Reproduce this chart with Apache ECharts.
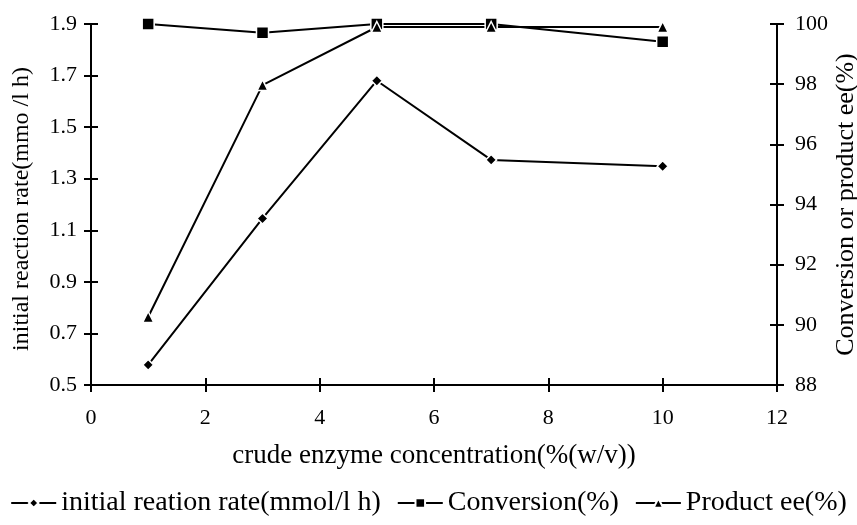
<!DOCTYPE html>
<html><head><meta charset="utf-8">
<script src="https://cdn.jsdelivr.net/npm/echarts@6/dist/echarts.min.js"></script>
<style>html,body{margin:0;padding:0;background:#fff}#c{width:857px;height:525px}</style>
</head><body><div id="c"></div>
<script>
var concentrations = [1, 3, 5, 7, 10];
var rateValues = [0.578, 1.146, 1.680, 1.373, 1.348];
var conversionValues = [100.0, 99.71, 100.0, 100.0, 99.41];
var eeValues = [90.26, 97.97, 99.9, 99.9, 99.9];
var seriesNames = ['initial reation rate(mmol/l h)', 'Conversion(%)', 'Product ee(%)'];

function pairs(vals){ return concentrations.map(function(x,i){ return [x, vals[i]]; }); }

var FONT = 'Liberation Serif';
var tick = {color:'#000', fontFamily:FONT, fontSize:22};
var lineS = {show:true, onZero:false, lineStyle:{color:'#000', width:2}};
var noLine = {show:false, onZero:false};
var tkOut = {show:true, inside:false, length:7, lineStyle:{color:'#000', width:2}};
var G = {left:91, right:80, top:24, bottom:140};
var gridW = 857 - G.left - G.right;
var gridH = 525 - G.top - G.bottom;
var gridRect = Object.assign({containLabel:false, outerBoundsMode:'none'}, G);

var chart = echarts.init(document.getElementById('c'));
chart.setOption({
  backgroundColor:'#fff',
  animation:false,
  grid:[Object.assign({}, gridRect), Object.assign({}, gridRect)],
  xAxis:[
    {gridIndex:0, type:'value', position:'bottom', min:0, max:12, interval:2,
     name:'crude enzyme concentration(%(w/v))', nameLocation:'middle', nameGap:57, nameMoveOverlap:false,
     nameTextStyle:{color:'#000', fontFamily:FONT, fontSize:27},
     axisLine:lineS, axisTick:tkOut,
     axisLabel:Object.assign({margin:22}, tick), splitLine:{show:false}},
    {gridIndex:1, type:'value', position:'top', offset:-gridH, min:0, max:12, interval:2,
     axisLine:noLine, axisTick:tkOut,
     axisLabel:{show:false}, splitLine:{show:false}}
  ],
  yAxis:[
    {gridIndex:0, type:'value', position:'left', min:0.5, max:1.9, interval:0.2,
     name:'initial reaction rate(mmo /l h)', nameLocation:'middle', nameGap:57, nameRotate:90, nameMoveOverlap:false,
     nameTextStyle:{color:'#000', fontFamily:FONT, fontSize:24, padding:[0,9,0,0]},
     axisLine:lineS, axisTick:tkOut,
     axisLabel:Object.assign({margin:14, formatter:function(v){return v.toFixed(1);}}, tick), splitLine:{show:false}},
    {gridIndex:0, type:'value', position:'right', min:88, max:100, interval:2,
     name:'Conversion or product ee(%)', nameLocation:'middle', nameGap:56, nameRotate:90, nameMoveOverlap:false,
     nameTextStyle:{color:'#000', fontFamily:FONT, fontSize:26},
     axisLine:lineS, axisTick:tkOut,
     axisLabel:Object.assign({margin:18}, tick), splitLine:{show:false}},
    {gridIndex:1, type:'value', position:'right', offset:-gridW, min:0.5, max:1.9, interval:0.2,
     axisLine:noLine, axisTick:tkOut,
     axisLabel:{show:false}, splitLine:{show:false}},
    {gridIndex:1, type:'value', position:'left', offset:-gridW, min:88, max:100, interval:2,
     axisLine:noLine, axisTick:tkOut,
     axisLabel:{show:false}, splitLine:{show:false}}
  ],
  legend:{
    bottom:3, left:'center', itemWidth:45, itemHeight:12, itemGap:16,
    textStyle:{color:'#000', fontFamily:FONT, fontSize:28},
    data:seriesNames
  },
  series:[
    {name:seriesNames[0], type:'line', xAxisIndex:0, yAxisIndex:0, data:pairs(rateValues),
     symbol:'diamond', symbolSize:11,
     lineStyle:{color:'#000', width:2}, itemStyle:{color:'#000', borderColor:'#fff', borderWidth:1.5}},
    {name:seriesNames[1], type:'line', xAxisIndex:0, yAxisIndex:1, data:pairs(conversionValues),
     symbol:'rect', symbolSize:12,
     lineStyle:{color:'#000', width:2}, itemStyle:{color:'#000', borderColor:'#fff', borderWidth:1.5}},
    {name:seriesNames[2], type:'line', xAxisIndex:0, yAxisIndex:1, data:pairs(eeValues),
     symbol:'triangle', symbolSize:11,
     lineStyle:{color:'#000', width:2}, itemStyle:{color:'#000', borderColor:'#fff', borderWidth:1.5}},
    {name:'_tickL', type:'line', xAxisIndex:1, yAxisIndex:2, data:[], silent:true},
    {name:'_tickR', type:'line', xAxisIndex:1, yAxisIndex:3, data:[], silent:true}
  ]
});
</script></body></html>
